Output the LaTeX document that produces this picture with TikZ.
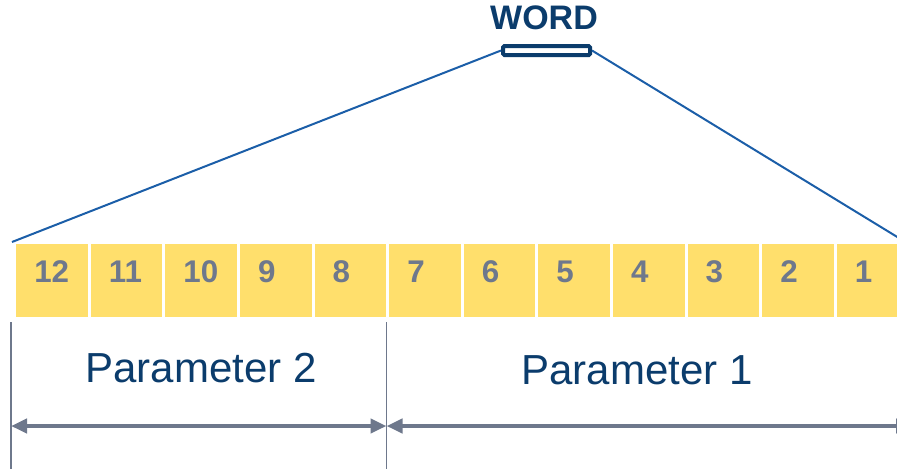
\documentclass[tikz,border=0pt]{standalone}
\usepackage{fontspec}
\setmainfont{Liberation Sans}
\usetikzlibrary{arrows.meta}
\definecolor{wordblue}{HTML}{0B3C6C}
\definecolor{lineblue}{HTML}{1B5EA8}
\definecolor{cellyellow}{HTML}{FFDF6C}
\definecolor{numgray}{HTML}{6E788C}
\begin{document}
\begin{tikzpicture}[
								x=0.75pt, y=-0.75pt,
								cell/.style={fill=cellyellow, minimum width=53.7pt, minimum height=54.75pt, inner sep=0pt, anchor=north west},
								cellnum/.style={font=\fontsize{23.5}{24}\selectfont\bfseries, text=numgray, anchor=west, inner sep=0pt},
								paramlabel/.style={font=\fontsize{31.5}{34}\selectfont, text=wordblue, inner sep=0pt},
								fan/.style={draw=lineblue, line width=1.5pt},
								guide/.style={draw=numgray, line width=1.2pt},
								span/.style={draw=numgray, line width=3pt, {Triangle[length=12pt,width=10.5pt]}-{Triangle[length=12pt,width=10.5pt]}},
								]
								\useasboundingbox (0,0) rectangle (897,469);
								% the word and its bits
								\node [font=\fontsize{25.5}{26}\selectfont\bfseries, text=wordblue, inner sep=0pt] (word) at (544,18) {WORD};
								\node [draw=wordblue, line width=3pt, rounded corners=1pt, minimum width=65.25pt, minimum height=6.75pt, inner sep=0pt] (wbox) at (546.5,50.5) {};
								\foreach \i in {1,...,12} {
												\node [cell] (c\i) at ({16+(12-\i)*74.6}, 244) {};
												\node [cellnum] (n\i) at ({34+(12-\i)*74.6}, 272) {\i};
								}
								\coordinate (lt) at (12,242);
								\draw [fan] (wbox.west) -- (lt);
								\draw [fan] (wbox.east) -- (c1.north east);
								% parameter fields
								\coordinate (gl) at (11,322);
								\coordinate (gm) at (386.5,322);
								\coordinate (gr) at (912,322);
								\draw [guide] (gl) -- ++(0,147);
								\draw [guide] (gm) -- ++(0,147);
								\draw [span] ([yshift=-78pt]gl) -- ([yshift=-78pt]gm);
								\draw [span] ([yshift=-78pt]gm) -- ([yshift=-78pt]gr);
								\node [paramlabel] (p2) at (201,368) {Parameter 2};
								\node [paramlabel] (p1) at (637,370) {Parameter 1};
				\end{tikzpicture}
\end{document}
